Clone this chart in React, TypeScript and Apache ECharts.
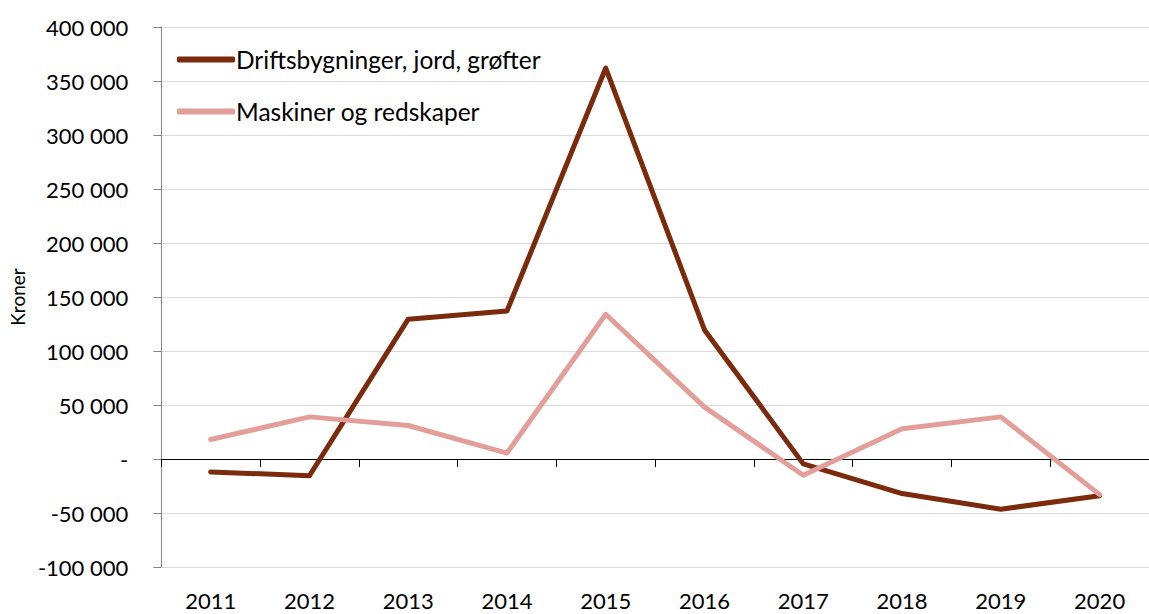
import React, { useEffect, useRef } from "react";
import * as echarts from "echarts";

const years = ["2011", "2012", "2013", "2014", "2015", "2016", "2017", "2018", "2019", "2020"];
const drift = [-12000, -15500, 129500, 137000, 362000, 119500, -4500, -32000, -46500, -34000];
const maskiner = [18000, 39000, 31000, 5500, 134000, 48000, -15000, 28000, 39000, -33000];
const seriesNames = ["Driftsbygninger, jord, grøfter", "Maskiner og redskaper"];
const colors = ["#7B2A0C", "#E49E99"];
const yMin = -100000;
const yMax = 400000;
const yStep = 50000;

const fmt = (v: number) => {
  if (v === 0) return "-";
  const s = Math.abs(v).toString().replace(/\B(?=(\d{3})+(?!\d))/g, " ");
  return (v < 0 ? "-" : "") + s;
};

const FONT = "Lato, 'Open Sans', sans-serif";

export default function App() {
  const ref = useRef<HTMLDivElement>(null);
  useEffect(() => {
    document.body.style.margin = "0";
    const chart = echarts.init(ref.current!, null, { renderer: "svg" });
    chart.setOption({
      animation: false,
      textStyle: { fontFamily: FONT },
      legend: {
        orient: "vertical",
        left: 172,
        top: 42,
        itemGap: 27,
        itemWidth: 58,
        itemHeight: 6,
        icon: "roundRect",
        textStyle: { fontSize: 24.5, color: "#000", fontFamily: FONT, padding: [0, 0, 0, -4] },
        data: seriesNames,
      },
      grid: { left: 158, top: 27, width: 1003, height: 540, containLabel: false },
      xAxis: [
        {
          type: "category",
          data: years,
          boundaryGap: true,
          axisLine: { onZero: true, lineStyle: { color: "#000", width: 1 } },
          axisTick: { show: true, length: 8, inside: false, lineStyle: { color: "#000" } },
          axisLabel: { show: false },
          splitLine: { show: false },
        },
        {
          type: "category",
          data: years,
          boundaryGap: true,
          position: "bottom",
          axisLine: { show: false, onZero: false },
          axisTick: { show: false },
          axisLabel: { show: true, margin: 22, fontSize: 22, color: "#000", fontFamily: FONT },
          splitLine: { show: false },
        },
      ],
      yAxis: {
        type: "value",
        min: yMin,
        max: yMax,
        interval: yStep,
        name: "Kroner",
        nameLocation: "middle",
        nameGap: 132,
        nameRotate: 90,
        nameTextStyle: { fontSize: 19, color: "#000", fontFamily: FONT },
        axisLine: { show: true, lineStyle: { color: "#868686" } },
        axisTick: { show: true, length: 8, lineStyle: { color: "#868686" } },
        axisLabel: { formatter: fmt, fontSize: 22, color: "#000", margin: 33, fontFamily: FONT },
        splitLine: { show: true, lineStyle: { color: "#D9D9D9", width: 1 } },
      },
      series: [
        {
          name: seriesNames[0],
          type: "line",
          data: drift,
          xAxisIndex: 0,
          symbol: "none",
          lineStyle: { color: colors[0], width: 5, cap: "round", join: "round" },
          itemStyle: { color: colors[0] },
        },
        {
          name: seriesNames[1],
          type: "line",
          data: maskiner,
          xAxisIndex: 0,
          symbol: "none",
          lineStyle: { color: colors[1], width: 5, cap: "round", join: "round" },
          itemStyle: { color: colors[1] },
        },
      ],
    });
    return () => chart.dispose();
  }, []);
  return <div ref={ref} style={{ width: 1149, height: 614 }} />;
}
